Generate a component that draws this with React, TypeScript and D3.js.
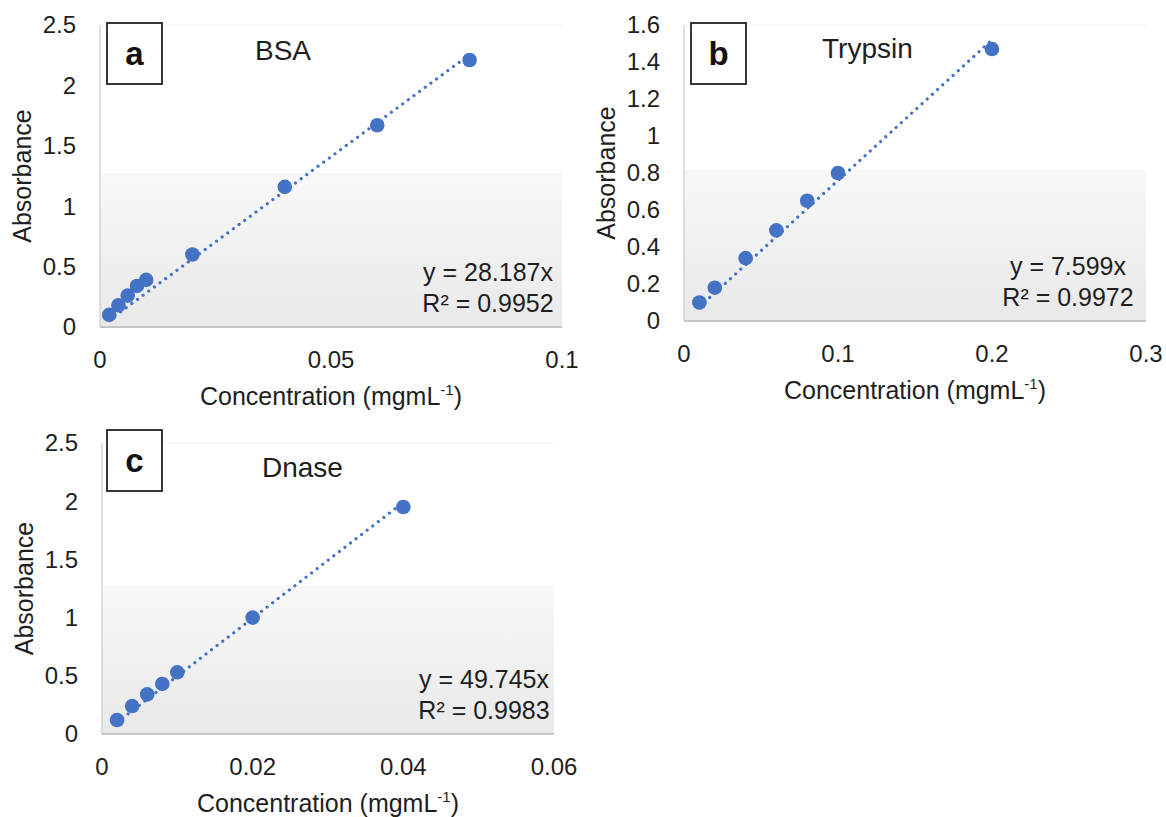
import React from 'react';
import * as d3 from 'd3';

// BSA standard curve
const bsaConc = [0.002, 0.004, 0.006, 0.008, 0.01, 0.02, 0.04, 0.06, 0.08];
const bsaAbs = [0.1, 0.18, 0.26, 0.34, 0.39, 0.6, 1.16, 1.67, 2.21];
// Trypsin standard curve
const trypsinConc = [0.01, 0.02, 0.04, 0.06, 0.08, 0.1, 0.2];
const trypsinAbs = [0.1, 0.18, 0.34, 0.49, 0.65, 0.8, 1.47];
// Dnase standard curve
const dnaseConc = [0.002, 0.004, 0.006, 0.008, 0.01, 0.02, 0.04];
const dnaseAbs = [0.12, 0.24, 0.34, 0.43, 0.53, 1.0, 1.95];

const slopes = [28.187, 7.599, 49.745];
const rSquared = ['0.9952', '0.9972', '0.9983'];
const titles = ['BSA', 'Trypsin', 'Dnase'];
const letters = ['a', 'b', 'c'];

const xTicksA = [0, 0.05, 0.1];
const yTicksA = [0, 0.5, 1, 1.5, 2, 2.5];
const xTicksB = [0, 0.1, 0.2, 0.3];
const yTicksB = [0, 0.2, 0.4, 0.6, 0.8, 1, 1.2, 1.4, 1.6];
const xTicksC = [0, 0.02, 0.04, 0.06];
const yTicksC = [0, 0.5, 1, 1.5, 2, 2.5];

const BLUE = '#4472C4';
const FONT = 'Liberation Sans, Arial, sans-serif';
const INK = '#1e1e1e';

type PanelProps = {
  id: string;
  conc: number[];
  abs: number[];
  slope: number;
  r2: string;
  title: string;
  letter: string;
  xTicks: number[];
  yTicks: number[];
  left: number;
  right: number;
  top: number;
  bottom: number;
  boxX: number;
  boxY: number;
  titleX: number;
  titleY: number;
  eqX: number;
};

const Panel = (p: PanelProps) => {
  const x = d3.scaleLinear().domain([0, p.xTicks[p.xTicks.length - 1]]).range([p.left, p.right]);
  const y = d3.scaleLinear().domain([0, p.yTicks[p.yTicks.length - 1]]).range([p.bottom, p.top]);
  const x0 = p.conc[0];
  const x1 = p.conc[p.conc.length - 1];
  const trend = d3
    .line<number>()
    .x((d) => x(d))
    .y((d) => y(d * p.slope))([x0, x1]);
  const mid = (p.top + p.bottom) / 2 - 3;
  return (
    <g>
      <defs>
        <linearGradient id={'grad' + p.id} x1="0" y1="0" x2="0" y2="1">
          <stop offset="0" stopColor="#f8f8f8" />
          <stop offset="1" stopColor="#e9e9e9" />
        </linearGradient>
      </defs>
      <rect x={p.left} y={mid} width={p.right - p.left} height={p.bottom - mid} fill={'url(#grad' + p.id + ')'} />
      <line x1={p.left} x2={p.right} y1={p.top} y2={p.top} stroke="#f0f0f0" />
      <line x1={p.left} x2={p.left} y1={p.top} y2={p.bottom} stroke="#d4d4d4" strokeWidth={1.5} />
      <line x1={p.left} x2={p.right} y1={p.bottom} y2={p.bottom} stroke="#c4c4c4" strokeWidth={2} />

      {p.yTicks.map((t) => (
        <text key={'y' + t} x={p.left - 24} y={y(t)} dy="0.35em" textAnchor="end" fontSize={24} fill={INK}>
          {String(t)}
        </text>
      ))}
      {p.xTicks.map((t) => (
        <text key={'x' + t} x={x(t)} y={p.bottom + 41} textAnchor="middle" fontSize={24} fill={INK}>
          {String(t)}
        </text>
      ))}

      <text
        transform={`translate(${p.left - 78},${(p.top + p.bottom) / 2}) rotate(-90)`}
        dy="0.35em"
        textAnchor="middle"
        fontSize={25}
        fill={INK}
      >
        Absorbance
      </text>
      <text x={(p.left + p.right) / 2} y={p.bottom + 78} textAnchor="middle" fontSize={25} fill={INK}>
        Concentration (mgmL
        <tspan fontSize={15} dy={-10}>
          -1
        </tspan>
        <tspan dy={10}>)</tspan>
      </text>

      <path d={trend || ''} fill="none" stroke={BLUE} strokeWidth={3.2} strokeDasharray="0.01 7" strokeLinecap="round" />
      {p.conc.map((c, i) => (
        <circle key={i} cx={x(c)} cy={y(p.abs[i])} r={7.3} fill={BLUE} />
      ))}

      <text x={p.eqX} y={p.bottom - 46} textAnchor="middle" fontSize={25} fill={INK}>
        {'y = ' + p.slope + 'x'}
      </text>
      <text x={p.eqX} y={p.bottom - 15} textAnchor="middle" fontSize={25} fill={INK}>
        {'R² = ' + p.r2}
      </text>

      <text x={p.titleX} y={p.titleY} dy="0.35em" fontSize={28} fill={INK}>
        {p.title}
      </text>
      <rect x={p.boxX} y={p.boxY} width={55} height={61} fill="#fff" stroke="#222" strokeWidth={1.8} />
      <text x={p.boxX + 27.5} y={p.boxY + 30.5} dy="0.36em" textAnchor="middle" fontSize={33} fontWeight="bold" fill="#111">
        {p.letter}
      </text>
    </g>
  );
};

const App = () => {
  return (
    <svg
      width={1166}
      height={817}
      style={{ position: 'absolute', left: 0, top: 0, background: '#fff' }}
      fontFamily={FONT}
    >
      <rect width={1166} height={817} fill="#fff" />
      <Panel
        id="a"
        conc={bsaConc}
        abs={bsaAbs}
        slope={slopes[0]}
        r2={rSquared[0]}
        title={titles[0]}
        letter={letters[0]}
        xTicks={xTicksA}
        yTicks={yTicksA}
        left={100}
        right={562}
        top={25}
        bottom={327}
        boxX={107}
        boxY={23}
        titleX={255}
        titleY={50}
        eqX={488}
      />
      <Panel
        id="b"
        conc={trypsinConc}
        abs={trypsinAbs}
        slope={slopes[1]}
        r2={rSquared[1]}
        title={titles[1]}
        letter={letters[1]}
        xTicks={xTicksB}
        yTicks={yTicksB}
        left={684}
        right={1146}
        top={25}
        bottom={321}
        boxX={691}
        boxY={23}
        titleX={822}
        titleY={48}
        eqX={1068}
      />
      <Panel
        id="c"
        conc={dnaseConc}
        abs={dnaseAbs}
        slope={slopes[2]}
        r2={rSquared[2]}
        title={titles[2]}
        letter={letters[2]}
        xTicks={xTicksC}
        yTicks={yTicksC}
        left={102}
        right={554}
        top={443}
        bottom={734}
        boxX={107}
        boxY={430}
        titleX={262}
        titleY={467}
        eqX={484}
      />
    </svg>
  );
};

export default App;
